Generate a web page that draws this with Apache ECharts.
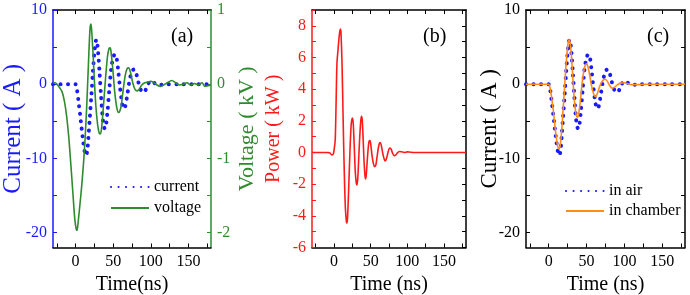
<!DOCTYPE html>
<html><head><meta charset="utf-8">
<script src="https://cdn.jsdelivr.net/npm/echarts@6/dist/echarts.min.js"></script>
<style>html,body{margin:0;padding:0;background:#fff}#c{width:690px;height:295px}</style>
</head><body><div id="c"></div>
<script>
// ---- data ----
const currentT = [-30,-20,-10,-2,0,2,4,6,8,10,12,14,15.5,17,19,21,23,25,26.5,27.5,28.5,30,32,34,36,37.5,39,40.5,42.5,45,47.5,50,51.5,53,54.5,56.5,59,61.5,63,64.5,66,68.5,71,73.5,76,78,80,82.5,85,88,91,93.5,96,98.5,101,103.5,106,110,115,120,140,160,180];
const currentA = [0,0,0,0,0,-0.8,-2.4,-4.1,-5.9,-7.6,-9.0,-9.6,-9.0,-7.2,-4.4,-1.5,1.6,4.3,5.6,6.0,5.7,4.3,1.4,-1.8,-4.5,-5.7,-6.0,-5.5,-3.6,-0.5,2.2,3.6,3.95,4.0,3.6,2.0,-0.4,-2.4,-3.1,-3.3,-3.0,-1.6,0.1,1.3,1.9,2.0,1.7,0.7,-0.3,-1.0,-1.1,-0.7,-0.1,0.35,0.45,0.3,0.05,-0.1,-0.05,0,0,0,0];

const voltageT = [-30,-27,-24,-21,-18,-15,-12,-9,-6,-3,-1,1,2,3.5,6,8.5,11,13,15,17,18.5,19.5,20.3,21.2,23,25,27,29.5,31.5,33,34.5,37,40,42.5,44.5,45.8,47,49.5,52,54.5,57,58.5,60.5,63,66,68.5,70.5,73,76,79,82,85,88,92,96,100,104,108,113,117,122,128,133,138,143,148,153,158,163,168,172,176,180];
const voltageKV = [0.02,0.02,-0.01,-0.05,-0.1,-0.22,-0.42,-0.72,-1.12,-1.55,-1.82,-1.96,-1.97,-1.85,-1.6,-1.33,-1.0,-0.67,-0.25,0.25,0.62,0.78,0.81,0.75,0.45,0.05,-0.3,-0.56,-0.66,-0.67,-0.6,-0.3,0.1,0.38,0.48,0.49,0.45,0.2,-0.1,-0.3,-0.38,-0.37,-0.3,-0.1,0.12,0.21,0.22,0.16,0.02,-0.07,-0.09,-0.06,-0.01,0.02,0.03,0.04,0.02,-0.01,-0.03,-0.01,0.02,0.05,0.02,-0.01,0.0,0.02,-0.01,0.01,-0.01,0.02,-0.03,-0.02,-0.01];

const powerT = [-30,-20,-10,-6,-3,-1,0.5,1.7,2.8,4,5.5,7,8.5,9.5,11,12.5,14,15.5,17,17.6,18.5,20,22,23.5,24.5,25.3,26.3,27.5,29,30.3,31.2,32.3,33.5,35,36.5,37.5,38.5,39.7,41,42.2,43,44,45.5,47,48,49,50.2,52,54,55.5,57,58.5,60.5,62,63,64.5,66.5,68.5,70,71.5,73.5,75,76.5,78,80,82,84,86,89,92,96,100,104,110,120,140,160,180];
const powerKW = [0,0,0,-0.02,-0.15,-0.1,0.3,0.8,3.0,5.6,6.5,7.3,7.8,7.6,5.5,2.0,-1.2,-3.5,-4.4,-4.45,-4.1,-2.3,0.4,1.8,2.1,2.18,1.8,0.5,-1.2,-1.9,-2.05,-1.7,-0.6,0.9,2.0,2.28,2.05,0.9,-0.6,-1.45,-1.67,-1.4,-0.4,0.45,0.72,0.76,0.5,-0.25,-0.75,-0.89,-0.8,-0.35,0.3,0.58,0.63,0.45,-0.05,-0.42,-0.53,-0.4,-0.02,0.22,0.28,0.2,-0.05,-0.2,-0.17,-0.05,0.06,0.05,0.0,0.04,0.02,0,0,0,0,0];

const chamberT = [-30,-20,-10,-2,0,2,4,6,8,10,12,13.6,15,17,19,21,23,25,26.3,27.2,28.3,30,32,34,36,37.3,38.3,39.5,41.5,44,46.5,48.5,50,51.5,54,56.5,59,60.5,62,63.5,66,69,72,74.4,77,80,82.5,84.5,87,91,95,100,105,110,120,130,150,180];
const chamberA = [0,0,0,0,0,-0.6,-1.9,-3.5,-5.4,-7.2,-8.4,-8.7,-8.3,-6.4,-3.4,-0.3,2.8,5.1,5.9,6.0,5.6,3.8,0.6,-2.3,-4.0,-4.4,-4.45,-4.1,-2.5,0.0,1.9,2.6,2.75,2.5,1.3,-0.2,-1.2,-1.55,-1.65,-1.45,-0.7,0.1,0.55,0.67,0.45,-0.1,-0.45,-0.53,-0.4,-0.05,0.15,0.2,0.05,-0.05,-0.05,0,0,0];

const timeTicks = [-25,0,25,50,75,100,125,150,175];
const timeLabels = [0,50,100,150];
const currentTicks = [-20,-15,-10,-5,0,5,10];
const currentLabels = [-20,-10,0,10];
const voltageTicks = [-2,-1.5,-1,-0.5,0,0.5,1];
const voltageLabels = [-2,-1,0,1];
const powerTicks = [-6,-5,-4,-3,-2,-1,0,1,2,3,4,5,6,7,8,9];
const powerLabels = [-6,-4,-2,0,2,4,6,8];

// ---- chart ----
const FONT = 'Liberation Serif';
const BLUE = '#1a1aff', GREEN = '#2e8b2e', RED = '#ff1a1a', ORANGE = '#ff8c1a', BLACK = '#000';
const zip = (t, v) => t.map((x, i) => [x, v[i]]);

function xBottom(gi, name) {
  return {
    type: 'value', gridIndex: gi, position: 'bottom', min: -30, max: 180,
    name: name, nameLocation: 'middle', nameGap: 27, nameMoveOverlap: false,
    nameTextStyle: { fontFamily: FONT, fontSize: 20, color: BLACK },
    axisLine: { show: true, onZero: false, lineStyle: { color: BLACK, width: 1.5 } },
    axisTick: { show: true, inside: true, length: 4, customValues: timeTicks, lineStyle: { color: BLACK } },
    axisLabel: { show: true, customValues: timeLabels, margin: 6, fontFamily: FONT, fontSize: 16, color: BLACK },
    splitLine: { show: false }
  };
}
function xTop(gi) {
  return {
    type: 'value', gridIndex: gi, position: 'top', min: -30, max: 180,
    axisLine: { show: true, onZero: false, lineStyle: { color: BLACK, width: 1.5 } },
    axisTick: { show: true, inside: true, length: 4, customValues: timeTicks, lineStyle: { color: BLACK } },
    axisLabel: { show: false }, splitLine: { show: false }
  };
}
function yAx(gi, pos, min, max, ticks, labels, color, name, gap, nameSize) {
  return {
    type: 'value', gridIndex: gi, position: pos, min: min, max: max,
    name: name || '', nameLocation: 'middle', nameRotate: 90, nameGap: gap || 30, nameMoveOverlap: false,
    nameTextStyle: { fontFamily: FONT, fontSize: nameSize || 20, color: color },
    axisLine: { show: true, onZero: false, lineStyle: { color: color, width: 1.5 } },
    axisTick: { show: true, inside: true, length: 4, customValues: ticks, lineStyle: { color: color } },
    axisLabel: { show: !!labels, customValues: labels || [], margin: 6, fontFamily: FONT, fontSize: 16, color: color },
    splitLine: { show: false }
  };
}

const chart = echarts.init(document.getElementById('c'), null, { renderer: 'canvas' });
chart.setOption({
  animation: false,
  backgroundColor: '#fff',
  textStyle: { fontFamily: FONT },
  title: [
    { text: '(a)', left: 166, top: 22, textStyle: { fontFamily: FONT, fontSize: 20, fontWeight: 'normal', color: BLACK } },
    { text: '(b)', left: 418, top: 22, textStyle: { fontFamily: FONT, fontSize: 20, fontWeight: 'normal', color: BLACK } },
    { text: '(c)', left: 642, top: 22, textStyle: { fontFamily: FONT, fontSize: 20, fontWeight: 'normal', color: BLACK } }
  ],
  grid: [
    { left: 53, top: 10, width: 158, height: 237.5, containLabel: false, outerBoundsMode: 'none' },
    { left: 312, top: 10, width: 154, height: 237.5, containLabel: false, outerBoundsMode: 'none' },
    { left: 526, top: 10, width: 159, height: 237.5, containLabel: false, outerBoundsMode: 'none' }
  ],
  xAxis: [xBottom(0, 'Time(ns)'), xTop(0), xBottom(1, 'Time (ns)'), xTop(1), xBottom(2, 'Time (ns)'), xTop(2)],
  yAxis: [
    yAx(0, 'left', -22, 10, currentTicks, currentLabels, BLUE, 'Current ( A )', 27, 25),
    yAx(0, 'right', -2.2, 1, voltageTicks, voltageLabels, GREEN, 'Voltage ( kV )', 25, 22),
    yAx(1, 'left', -6, 9, powerTicks, powerLabels, RED, 'Power ( kW )', 28, 20),
    yAx(1, 'right', -6, 9, powerTicks, null, BLACK),
    yAx(2, 'left', -22, 10, currentTicks, currentLabels, BLACK, 'Current ( A )', 25, 23),
    yAx(2, 'right', -22, 10, currentTicks, null, BLACK)
  ],
  legend: [
    { data: ['current', 'voltage'], orient: 'vertical', left: 105, top: 174, itemWidth: 38, itemHeight: 12, itemGap: 5,
      itemStyle: { opacity: 0 }, textStyle: { fontFamily: FONT, fontSize: 16, color: BLACK } },
    { data: ['in air', 'in chamber'], orient: 'vertical', left: 560, top: 178, itemWidth: 38, itemHeight: 12, itemGap: 4,
      itemStyle: { opacity: 0 }, textStyle: { fontFamily: FONT, fontSize: 16, color: BLACK } }
  ],
  series: [
    { name: 'current', type: 'line', xAxisIndex: 0, yAxisIndex: 0, data: zip(currentT, currentA), symbol: 'none', smooth: 0.3,
      lineStyle: { color: BLUE, width: 4, type: [0.1, 7.4], cap: 'round' }, itemStyle: { color: BLUE } },
    { name: 'voltage', type: 'line', xAxisIndex: 0, yAxisIndex: 1, data: zip(voltageT, voltageKV), symbol: 'none', smooth: 0.3,
      lineStyle: { color: GREEN, width: 1.6 }, itemStyle: { color: GREEN } },
    { name: 'power', type: 'line', xAxisIndex: 2, yAxisIndex: 2, data: zip(powerT, powerKW), symbol: 'none', smooth: 0.3,
      lineStyle: { color: RED, width: 1.6 }, itemStyle: { color: RED } },
    { name: 'in air', type: 'line', xAxisIndex: 4, yAxisIndex: 4, data: zip(currentT, currentA), symbol: 'none', smooth: 0.3,
      lineStyle: { color: BLUE, width: 4, type: [0.1, 7.4], cap: 'round' }, itemStyle: { color: BLUE } },
    { name: 'in chamber', type: 'line', xAxisIndex: 4, yAxisIndex: 4, data: zip(chamberT, chamberA), symbol: 'none', smooth: 0.3,
      lineStyle: { color: ORANGE, width: 1.6 }, itemStyle: { color: ORANGE } }
  ]
});
</script></body></html>
